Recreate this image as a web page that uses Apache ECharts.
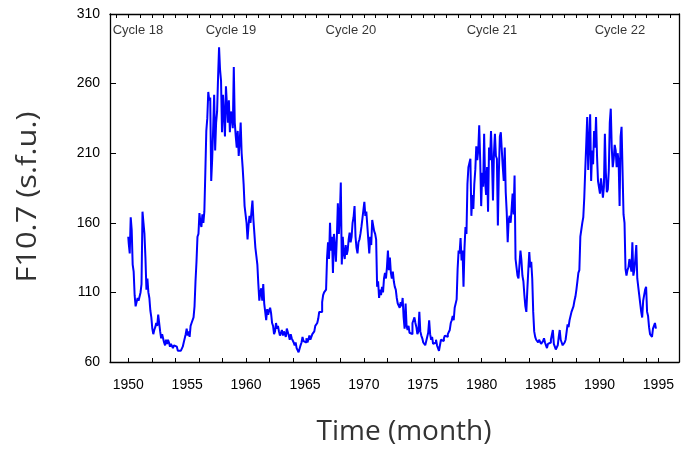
<!DOCTYPE html>
<html><head><meta charset="utf-8">
<script src="https://cdn.jsdelivr.net/npm/echarts@6/dist/echarts.min.js"></script>
<style>html,body{margin:0;padding:0;background:#fff}#c{width:681px;height:449px}</style>
</head><body><div id="c"></div>
<script>
// Monthly F10.7 means, January 1950 onward
const startYear = 1950;
const cycle18 = [ // 1950-1954
  150,145,138,164,155,130,125,108,100,103,106,104,
  103,110,116,168,160,152,135,112,120,110,106,97,
  92,84,80,83,85,88,86,94,88,82,77,80,
  80,74,72,76,73,76,74,71,73,72,70,72,
  71,71,70,68,67,68,67,69,71,74,73,80
];
const cycle19 = [ // 1955-1964
  84,79,82,78,86,88,89,92,100,118,132,150,
  152,167,160,157,166,160,168,196,226,235,254,248,
  250,190,206,228,252,212,232,240,265,286,270,262,
  225,252,238,222,258,245,232,248,225,240,236,228,
  272,232,222,214,226,208,218,232,210,200,188,172,
  172,160,148,158,165,160,168,176,162,152,142,136,
  130,116,104,110,113,104,116,102,96,90,98,94,
  97,99,95,88,86,80,82,88,84,86,82,79,
  81,83,79,82,80,78,84,83,79,76,80,77,
  78,74,72,74,70,69,67,68,72,74,78,75
];
const cycle20 = [ // 1965-1975
  76,74,77,74,76,79,76,78,80,80,82,86,
  87,88,91,96,97,96,103,108,110,110,112,135,
  146,134,160,140,150,124,152,144,132,150,174,152,
  165,189,130,150,138,134,144,137,140,148,153,146,
  150,160,164,172,150,142,138,146,148,152,157,163,
  163,175,165,168,158,148,138,150,144,162,158,154,
  152,148,114,118,106,112,108,114,110,120,124,120,
  128,140,126,135,124,120,125,118,114,112,106,102,
  102,99,103,100,106,92,84,102,86,83,86,81,
  82,80,88,90,92,88,85,80,82,96,82,79,
  77,74,73,72,71,78,81,90,80,76,78,73
];
const cycle21 = [ // 1976-1985
  72,74,76,72,70,68,72,76,77,75,77,79,
  80,78,80,81,83,88,90,93,90,99,100,105,
  127,140,138,149,133,140,114,142,157,152,188,200,
  203,206,165,180,170,188,198,215,205,212,230,205,
  172,196,186,224,190,180,200,168,214,205,226,205,
  176,210,224,208,206,158,196,222,225,212,200,190,
  214,182,168,146,162,165,160,170,181,166,194,134,
  128,122,120,130,140,133,122,118,108,100,96,112,
  126,139,128,132,120,96,82,78,76,77,74,76,
  76,73,74,75,77,74,72,70,73,72,74,76
];
const cycle22 = [ // 1986-1994
  75,83,73,71,69,69,72,78,83,76,74,72,
  72,74,76,77,87,85,90,89,96,98,100,104,
  107,112,118,124,126,150,155,160,164,178,198,216,
  236,198,218,238,190,212,202,226,214,236,208,190,
  190,181,192,186,178,186,224,196,182,184,198,232,
  242,214,200,206,216,212,200,210,204,172,222,229,
  230,166,160,127,122,126,128,134,130,125,146,122,
  126,134,144,120,114,108,102,96,92,104,108,112,
  114,96,93,85,80,81,78,84,86,88,84
];

const xLabelYears = [1950,1955,1960,1965,1970,1975,1980,1985,1990,1995];
const xTickYears = [1950,1952,1954,1956,1958,1960,1962,1964,1966,1968,1970,1972,1974,1976,1978,1980,1982,1984,1986,1988,1990,1992,1994,1995];
const topTickYears = [1949,1950,1951,1952,1953,1954,1955,1956,1957,1958,1959,1960,1961,1962,1963,1964,1965,1966,1967,1968,1969,1970,1971,1972,1973,1974,1975,1976,1977,1978,1979,1980,1981,1982,1983,1984,1985,1986,1987,1988,1989,1990,1991,1992,1993,1994,1995,1996];
const yMin = 60, yMax = 310, yStep = 50;
const cycleNames = ['Cycle 18','Cycle 19','Cycle 20','Cycle 21','Cycle 22'];
const cycleYears = [1950.82,1958.72,1968.9,1980.87,1991.74];
const cycleLabelLevel = 298.5;

const monthly = [].concat(cycle18, cycle19, cycle20, cycle21, cycle22);
const seriesData = monthly.map((v, i) => [startYear + i / 12, v]);

const chart = echarts.init(document.getElementById('c'), null, {renderer: 'canvas'});
const tickFont = {fontFamily: 'Liberation Sans, Arial, sans-serif', fontSize: 14, color: '#000'};
const xMin = 1948.45, xMax = 1996.75;
chart.setOption({
  animation: false,
  backgroundColor: '#fff',
  grid: {left: 110, right: 2, top: 14, bottom: 87, containLabel: false},
  xAxis: [
    {type: 'value', min: xMin, max: xMax, position: 'bottom',
     axisLine: {show: true, onZero: false, lineStyle: {color: '#000', width: 1.3}},
     axisTick: {show: true, inside: true, length: 4, customValues: xTickYears, lineStyle: {color: '#000'}},
     axisLabel: Object.assign({show: true, margin: 16, customValues: xLabelYears,
       formatter: v => String(Math.round(v))}, tickFont),
     splitLine: {show: false}},
    {type: 'value', min: xMin, max: xMax, position: 'top',
     axisLine: {show: true, onZero: false, lineStyle: {color: '#000', width: 1.3}},
     axisTick: {show: true, inside: true, length: 4, customValues: topTickYears, lineStyle: {color: '#000'}},
     axisLabel: {show: false}, splitLine: {show: false}}
  ],
  yAxis: [
    {type: 'value', min: yMin, max: yMax, interval: yStep, position: 'left',
     axisLine: {show: true, onZero: false, lineStyle: {color: '#000', width: 1.3}},
     axisTick: {show: true, inside: true, length: 6, lineStyle: {color: '#000'}},
     axisLabel: Object.assign({show: true, margin: 10}, tickFont),
     splitLine: {show: false}},
    {type: 'value', min: yMin, max: yMax, interval: yStep, position: 'right',
     axisLine: {show: true, onZero: false, lineStyle: {color: '#000', width: 1.3}},
     axisTick: {show: true, inside: true, length: 6, lineStyle: {color: '#000'}},
     axisLabel: {show: false}, splitLine: {show: false}}
  ],
  series: [
    {type: 'line', xAxisIndex: 0, yAxisIndex: 0, data: seriesData,
     showSymbol: false, symbol: 'none', smooth: false, step: 'middle',
     lineStyle: {color: '#0000ff', width: 2}, silent: true},
    {type: 'scatter', xAxisIndex: 0, yAxisIndex: 0, symbolSize: 0,
     itemStyle: {color: 'rgba(0,0,0,0)'}, silent: true,
     data: cycleYears.map((y, i) => ({name: cycleNames[i], value: [y, cycleLabelLevel]})),
     label: {show: true, position: 'inside', formatter: p => p.name,
       fontFamily: 'Liberation Sans, Arial, sans-serif', fontSize: 13, color: '#000'}}
  ],
  graphic: [
    {type: 'text', x: 404, y: 432, style: {text: 'Time (month)', fill: '#333',
      font: '28px "Open Sans", sans-serif', textAlign: 'center', textVerticalAlign: 'middle'}},
    {type: 'text', x: 28, y: 197, rotation: Math.PI / 2, scaleX: 1.14, style: {text: 'F10.7 (s.f.u.)', fill: '#333',
      font: '27px "Open Sans", sans-serif', textAlign: 'center', textVerticalAlign: 'middle'}}
  ]
});
</script></body></html>
